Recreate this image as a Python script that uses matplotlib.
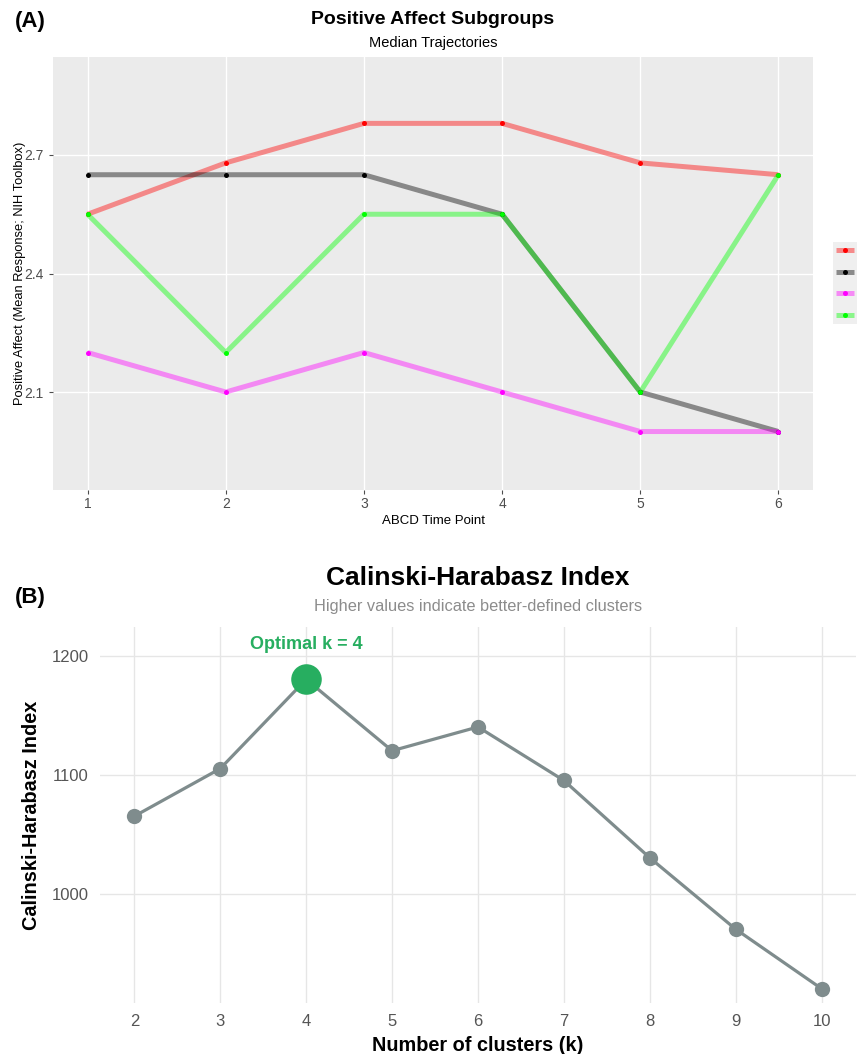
import matplotlib
matplotlib.use("Agg")
import matplotlib.pyplot as plt
from matplotlib.lines import Line2D

plt.rcParams['font.family'] = ['Liberation Sans', 'DejaVu Sans']

# ---------------- Data ----------------
time_points = [1, 2, 3, 4, 5, 6]
red_vals = [2.55, 2.68, 2.78, 2.78, 2.68, 2.65]
black_vals = [2.65, 2.65, 2.65, 2.55, 2.10, 2.00]
magenta_vals = [2.20, 2.10, 2.20, 2.10, 2.00, 2.00]
green_vals = [2.55, 2.20, 2.55, 2.55, 2.10, 2.65]
series_a = [red_vals, black_vals, magenta_vals, green_vals]
colors_a = ['#FF0000', '#000000', '#FF00FF', '#00FF00']
yticks_a = [2.1, 2.4, 2.7]

k_values = [2, 3, 4, 5, 6, 7, 8, 9, 10]
ch_index = [1065, 1105, 1180, 1120, 1140, 1095, 1030, 970, 920]
optimal_k = 4
yticks_b = [1000, 1100, 1200]

W, H = 858, 1054
fig = plt.figure(figsize=(W / 100, H / 100), dpi=100)

def fx(px):
    return px / W

def fy(py):
    return 1 - py / H

# ---------------- Panel A ----------------
axA = fig.add_axes([fx(53), fy(490), fx(813) - fx(53), fy(57) - fy(490)])
axA.set_facecolor('#EBEBEB')
for s in axA.spines.values():
    s.set_visible(False)
for vals, c in zip(series_a, colors_a):
    axA.plot(time_points, vals, color=c, alpha=0.42, lw=3.6, solid_capstyle='butt', zorder=2)
for vals, c in zip(series_a, colors_a):
    axA.plot(time_points, vals, 'o', color=c, ms=3.6, mec='none', zorder=3)
axA.set_xlim(0.75, 6.25)
axA.set_ylim(1.852, 2.948)
axA.set_xticks(time_points)
axA.set_yticks(yticks_a)
axA.grid(True, which='major', color='white', lw=1.0)
axA.set_axisbelow(True)
axA.tick_params(which='major', colors='#4D4D4D', labelsize=10, length=3, width=0.8)
axA.tick_params(axis='x', pad=2)
axA.set_xlabel('ABCD Time Point', fontsize=9.5, color='black', labelpad=3)
axA.set_ylabel('Positive Affect (Mean Response; NIH Toolbox)', fontsize=9.3, color='black', labelpad=-1)

fig.text(fx(433), fy(19), 'Positive Affect Subgroups', ha='center', va='center',
         fontsize=14, fontweight='bold')
fig.text(fx(433), fy(43), 'Median Trajectories', ha='center', va='center', fontsize=10.5)
fig.text(fx(15), fy(22), '(A)', ha='left', va='center', fontsize=16, fontweight='bold')

handles = [Line2D([0], [0], color=c, alpha=0.42, lw=3.6, solid_capstyle='butt') for c in colors_a]
handles = [(h, Line2D([0], [0], color=c, marker='o', ls='none', ms=3.6, mec='none'))
           for h, c in zip(handles, colors_a)]
leg = fig.legend(handles, ['', '', '', ''], loc='center', bbox_to_anchor=(fx(845), fy(283)),
                 frameon=True, handlelength=1.8, handletextpad=0, labelspacing=1.2,
                 borderpad=0.35, fontsize=7)
leg.get_frame().set_facecolor('#EBEBEB')
leg.get_frame().set_edgecolor('none')
leg.get_frame().set_boxstyle('square', pad=0.0)

# ---------------- Panel B ----------------
axB = fig.add_axes([fx(100), fy(1003), fx(856) - fx(100), fy(627) - fy(1003)])
axB.set_facecolor('white')
for s in axB.spines.values():
    s.set_visible(False)
grey = '#7F8C8D'
green = '#27AE60'
axB.plot(k_values, ch_index, color=grey, lw=2.3, zorder=2)
axB.plot(k_values, ch_index, 'o', color=grey, ms=11, mec='none', zorder=3)
oi = k_values.index(optimal_k)
axB.plot([k_values[oi]], [ch_index[oi]], 'o', color=green, ms=22, mec='none', zorder=4)
axB.text(k_values[oi], ch_index[oi] + 29, 'Optimal k = %d' % optimal_k, ha='center',
         va='center', color=green, fontsize=13, fontweight='bold')
axB.set_xlim(1.6, 10.4)
axB.set_ylim(908, 1224)
axB.set_xticks(k_values)
axB.set_yticks(yticks_b)
axB.grid(True, color='#E6E6E6', lw=1.0)
axB.set_axisbelow(True)
axB.tick_params(colors='#555555', labelsize=12, length=0, pad=8)
axB.set_xlabel('Number of clusters (k)', fontsize=14.3, fontweight='bold', labelpad=5)
axB.set_ylabel('Calinski-Harabasz Index', fontsize=14.3, fontweight='bold', labelpad=8)

fig.text(fx(478), fy(578), 'Calinski-Harabasz Index', ha='center', va='center',
         fontsize=19, fontweight='bold')
fig.text(fx(478), fy(607), 'Higher values indicate better-defined clusters', ha='center',
         va='center', fontsize=11.8, color='#8C8C8C')
fig.text(fx(15), fy(598), '(B)', ha='left', va='center', fontsize=16, fontweight='bold')

fig.savefig('out.png', dpi=100)
